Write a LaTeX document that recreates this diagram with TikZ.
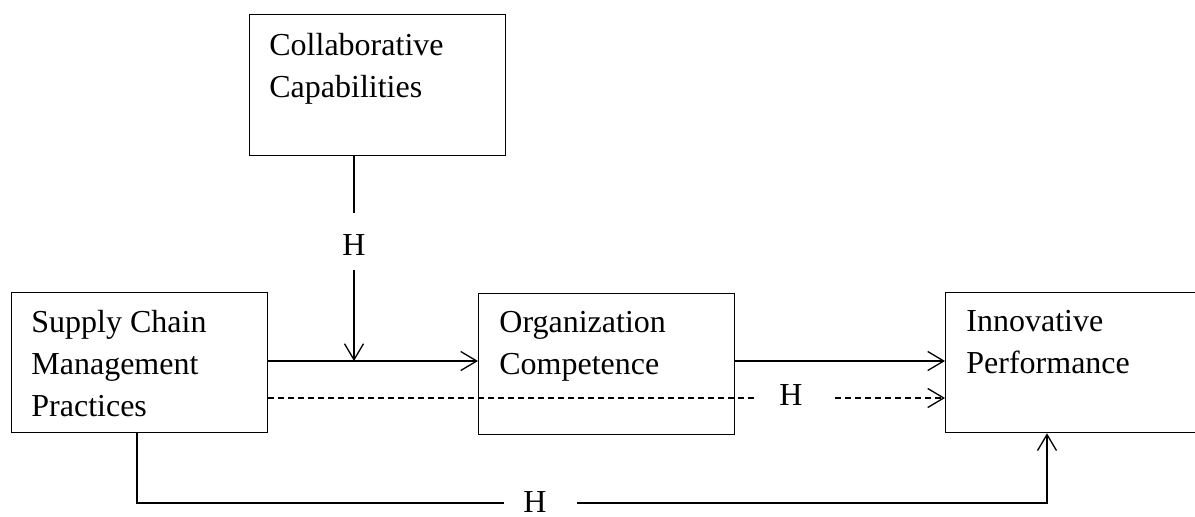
\documentclass[tikz,border=0pt]{standalone}
\usepackage{fontspec}
\setmainfont{Liberation Serif}
\usetikzlibrary{arrows.meta}
\begin{document}
\begin{tikzpicture}[x=0.5pt,y=-0.5pt,
  box/.style={draw, line width=0.65pt, inner sep=0pt, anchor=north west},
  lbl/.style={anchor=north west, inner sep=0pt, align=left, font=\fontsize{16}{21}\selectfont},
  hlbl/.style={anchor=base, inner sep=0pt, font=\fontsize{16}{21}\selectfont},
  conn/.style={line width=0.65pt},
  tip/.style={-{Straight Barb[length=8pt,width=9.5pt]}},
  arr/.style={conn, tip},
  dsh/.style={conn, dash pattern=on 3pt off 2pt}]
\useasboundingbox (0,0) rectangle (1195,516);
% boxes
\node[box, minimum width=128pt, minimum height=70.5pt] (cc) at (249,14) {};
\node[box, minimum width=128pt, minimum height=70pt] (scm) at (11,292) {};
\node[box, minimum width=128pt, minimum height=70.5pt] (oc) at (478,293) {};
\node[box, minimum width=126pt, minimum height=70pt] (ip) at (945,292) {};
% texts
\node[lbl] (tcc) at (269,33) {Collaborative\\Capabilities};
\node[lbl] (tscm) at (31,310) {Supply Chain\\Management\\Practices};
\node[lbl] (toc) at (499,311) {Organization\\Competence};
\node[lbl] (tip) at (966,310) {Innovative\\Performance};
% moderating path
\node[hlbl] (h1) at (354,255) {H};
\coordinate (c1) at (354,213);
\coordinate (c2) at (354,270);
\coordinate (m) at (354,361);
\draw[conn] (cc.south -| c1) -- (c1);
\draw[arr] (c2) -- (m);
% main path
\draw[arr] (scm.east |- m) -- (oc.west |- m);
\draw[arr] (oc.east |- m) -- (ip.west |- m);
% dashed path
\node[hlbl] (h2) at (791,405) {H};
\coordinate (d0) at (0,398);
\coordinate (d1) at (757,398);
\coordinate (d2) at (835,398);
\draw[dsh] (scm.east |- d0) -- (d1);
\draw[dsh, tip] (d2) -- (ip.west |- d0);
% bottom path
\node[hlbl] (h3) at (535,512) {H};
\coordinate (b1) at (137,503);
\coordinate (b2) at (504,503);
\coordinate (b3) at (577,503);
\coordinate (b4) at (1047,503);
\draw[conn] (scm.south -| b1) -- (b1) -- (b2);
\draw[arr] (b3) -- (b4) -- (ip.south -| b4);
\end{tikzpicture}
\end{document}
